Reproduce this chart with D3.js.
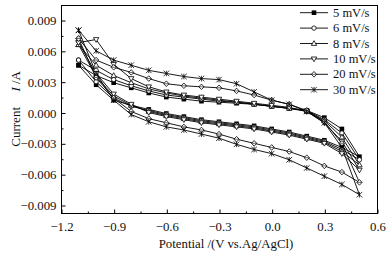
<!DOCTYPE html>
<html>
<head>
<meta charset="utf-8">
<script src="https://cdn.jsdelivr.net/npm/d3@7"></script>
<style>
  body { margin: 0; background: #fff; }
  svg { display: block; font-family: "Liberation Serif", "Times New Roman", serif; }
</style>
</head>
<body>
<div id="chart"></div>
<script>
// potential steps (V vs Ag/AgCl), forward scan -1.1 -> 0.5
const potentials = [-1.1, -1.0, -0.9, -0.8, -0.7, -0.6, -0.5, -0.4, -0.3, -0.2, -0.1, 0.0, 0.1, 0.2, 0.3, 0.4, 0.5];

// anodic (upper) branch currents, A, one per potential
const up5  = [0.0046, 0.0036, 0.0029, 0.0024, 0.0019, 0.0015, 0.0013, 0.0011, 0.0010, 0.0009, 0.0008, 0.0006, 0.0004, 0.0002, -0.0005, -0.0016, -0.0043];
const up6  = [0.0051, 0.0041, 0.0032, 0.0026, 0.0021, 0.0017, 0.0015, 0.0013, 0.0011, 0.0010, 0.0008, 0.0006, 0.0004, 0.0002, -0.0007, -0.0020, -0.0046];
const up8  = [0.0066, 0.0046, 0.0036, 0.0029, 0.0023, 0.0019, 0.0016, 0.0014, 0.0012, 0.0010, 0.0008, 0.0006, 0.0004, 0.0001, -0.0008, -0.0024, -0.0051];
const up10 = [0.0068, 0.0071, 0.0047, 0.0033, 0.0025, 0.0020, 0.0017, 0.0015, 0.0013, 0.0011, 0.0009, 0.0007, 0.0005, 0.0001, -0.0010, -0.0028, -0.0056];
const up20 = [0.0072, 0.0051, 0.0044, 0.0039, 0.0033, 0.0028, 0.0026, 0.0025, 0.0024, 0.0021, 0.0017, 0.0012, 0.0008, 0.0002, -0.0009, -0.0030, -0.0068];
const up30 = [0.0080, 0.0060, 0.0051, 0.0046, 0.0041, 0.0038, 0.0035, 0.0033, 0.0032, 0.0028, 0.0020, 0.0012, 0.0008, 0.0001, -0.0010, -0.0034, -0.0080];

// cathodic (lower) branch currents, same potentials
const dn5  = [0.0046, 0.0027, 0.0012, 0.0007, 0.0003, -0.0001, -0.0004, -0.0007, -0.0009, -0.0011, -0.0013, -0.0016, -0.0019, -0.0023, -0.0027, -0.0034, -0.0043];
const dn6  = [0.0051, 0.0030, 0.0014, 0.0006, 0.0002, -0.0002, -0.0005, -0.0008, -0.0010, -0.0012, -0.0014, -0.0017, -0.0020, -0.0024, -0.0028, -0.0036, -0.0046];
const dn8  = [0.0066, 0.0035, 0.0016, 0.0007, 0.0001, -0.0003, -0.0006, -0.0009, -0.0011, -0.0013, -0.0015, -0.0018, -0.0021, -0.0025, -0.0029, -0.0038, -0.0051];
const dn10 = [0.0068, 0.0038, 0.0018, 0.0008, 0.0000, -0.0004, -0.0007, -0.0010, -0.0012, -0.0014, -0.0016, -0.0019, -0.0022, -0.0026, -0.0030, -0.0040, -0.0056];
const dn20 = [0.0072, 0.0034, 0.0014, 0.0001, -0.0006, -0.0010, -0.0014, -0.0017, -0.0021, -0.0026, -0.0030, -0.0034, -0.0038, -0.0044, -0.0052, -0.0058, -0.0068];
const dn30 = [0.0080, 0.0038, 0.0012, -0.0002, -0.0009, -0.0014, -0.0017, -0.0021, -0.0025, -0.0031, -0.0036, -0.0040, -0.0046, -0.0054, -0.0062, -0.0070, -0.0080];

const seriesNames = ["5 mV/s", "6 mV/s", "8 mV/s", "10 mV/s", "20 mV/s", "30 mV/s"];
const markerTypes = ["square", "circle", "up", "down", "diamond", "star"];
const upper = [up5, up6, up8, up10, up20, up30];
const lower = [dn5, dn6, dn8, dn10, dn20, dn30];

const xTicks = [-1.2, -0.9, -0.6, -0.3, 0.0, 0.3, 0.6];
const yTicks = [-0.009, -0.006, -0.003, 0.000, 0.003, 0.006, 0.009];

// ---- layout ----
const W = 392, H = 259;
const plot = { left: 61, right: 377, top: 5, bottom: 213 };

const svg = d3.select("#chart").append("svg")
  .attr("width", W)
  .attr("height", H);

const x = d3.scaleLinear().domain([-1.2, 0.6]).range([plot.left, plot.right]);
const y = d3.scaleLinear().domain([-0.00978, 0.01046]).range([plot.bottom, plot.top]);

// frame
svg.append("rect")
  .attr("x", plot.left + 0.5)
  .attr("y", plot.top + 0.5)
  .attr("width", plot.right - plot.left)
  .attr("height", plot.bottom - plot.top)
  .attr("fill", "none")
  .attr("stroke", "#000")
  .attr("stroke-width", 1);

// axes with inward ticks
const xMinor = xTicks.slice(0, -1).map(t => t + 0.15);
const yMinor = yTicks.slice(0, -1).map(t => t + 0.0015);

const gx = svg.append("g").attr("transform", `translate(0.5,${plot.bottom + 0.5})`);
gx.call(d3.axisBottom(x).tickValues(xMinor).tickSize(-2).tickFormat(""));
gx.append("g").call(d3.axisBottom(x).tickValues(xTicks).tickSize(-4).tickPadding(8).tickFormat(d3.format(".1f")));

const gy = svg.append("g").attr("transform", `translate(${plot.left + 0.5},0.5)`);
gy.call(d3.axisLeft(y).tickValues(yMinor).tickSize(-2).tickFormat(""));
gy.append("g").call(d3.axisLeft(y).tickValues(yTicks).tickSize(-4).tickPadding(5).tickFormat(d3.format(".3f")));

svg.selectAll(".domain").remove();
svg.selectAll(".tick line").attr("stroke", "#000");
svg.selectAll(".tick text")
  .attr("fill", "#111")
  .style("font-family", "'Liberation Serif', serif")
  .style("font-size", "12.8px");

// curves
const line = d3.line().x(d => x(d[0])).y(d => y(d[1]));

function loopPoints(i) {
  const fwd = potentials.map((p, k) => [p, upper[i][k]]);
  const back = potentials.map((p, k) => [p, lower[i][k]]).reverse().slice(1);
  return fwd.concat(back);
}

function drawMarker(g, type, cx, cy) {
  const s = 2.3;
  if (type === "square") {
    g.append("rect").attr("x", cx - s).attr("y", cy - s).attr("width", 2 * s).attr("height", 2 * s)
      .attr("fill", "#000");
  } else if (type === "circle") {
    g.append("circle").attr("cx", cx).attr("cy", cy).attr("r", 2.2)
      .attr("fill", "#fff").attr("stroke", "#000").attr("stroke-width", 0.8);
  } else if (type === "up") {
    g.append("path").attr("d", `M${cx},${cy - 2.8}L${cx + 2.7},${cy + 1.9}L${cx - 2.7},${cy + 1.9}Z`)
      .attr("fill", "#fff").attr("stroke", "#000").attr("stroke-width", 0.8);
  } else if (type === "down") {
    g.append("path").attr("d", `M${cx},${cy + 2.8}L${cx + 2.7},${cy - 1.9}L${cx - 2.7},${cy - 1.9}Z`)
      .attr("fill", "#fff").attr("stroke", "#000").attr("stroke-width", 0.8);
  } else if (type === "diamond") {
    g.append("path").attr("d", `M${cx},${cy - 2.8}L${cx + 2.6},${cy}L${cx},${cy + 2.8}L${cx - 2.6},${cy}Z`)
      .attr("fill", "#fff").attr("stroke", "#000").attr("stroke-width", 0.8);
    g.append("path").attr("d", `M${cx - 2.6},${cy}L${cx + 2.6},${cy}`).attr("stroke", "#000").attr("stroke-width", 0.6);
  } else {
    const r = 2.8;
    g.append("path")
      .attr("d", `M${cx - r},${cy - r}L${cx + r},${cy + r}M${cx - r},${cy + r}L${cx + r},${cy - r}M${cx},${cy - r}L${cx},${cy + r}`)
      .attr("stroke", "#000").attr("stroke-width", 0.8).attr("fill", "none");
  }
}

const curves = svg.append("g");
seriesNames.forEach((name, i) => {
  const pts = loopPoints(i);
  curves.append("path")
    .attr("d", line(pts))
    .attr("fill", "none")
    .attr("stroke", "#000")
    .attr("stroke-width", 0.9);
});
seriesNames.forEach((name, i) => {
  const g = curves.append("g");
  loopPoints(i).forEach(p => drawMarker(g, markerTypes[i], x(p[0]), y(p[1])));
});

// legend
const legend = svg.append("g");
seriesNames.forEach((name, i) => {
  const ly = 12.7 + i * 15.4;
  legend.append("line")
    .attr("x1", 300).attr("x2", 328).attr("y1", ly).attr("y2", ly)
    .attr("stroke", "#000").attr("stroke-width", 0.9);
  drawMarker(legend, markerTypes[i], 314, ly);
  legend.append("text")
    .attr("x", 333).attr("y", ly + 4)
    .style("font-size", "12.5px")
    .attr("fill", "#111")
    .text(name);
});

// axis titles
svg.append("text")
  .attr("x", 226).attr("y", 248)
  .attr("text-anchor", "middle")
  .style("font-size", "12.8px")
  .attr("fill", "#111")
  .text("Potential /(V vs.Ag/AgCl)");

// y title: "Current" lower part, "I /A" upper part, rotated
svg.append("text")
  .attr("transform", "translate(20,107) rotate(-90)")
  .attr("text-anchor", "end")
  .style("font-size", "13px")
  .attr("fill", "#111")
  .text("Current");
const yt = svg.append("text")
  .attr("transform", "translate(20,71) rotate(-90)")
  .attr("text-anchor", "end")
  .style("font-size", "13px")
  .attr("fill", "#111");
yt.append("tspan").style("font-style", "italic").text("I");
yt.append("tspan").text(" /A");
</script>
</body>
</html>
